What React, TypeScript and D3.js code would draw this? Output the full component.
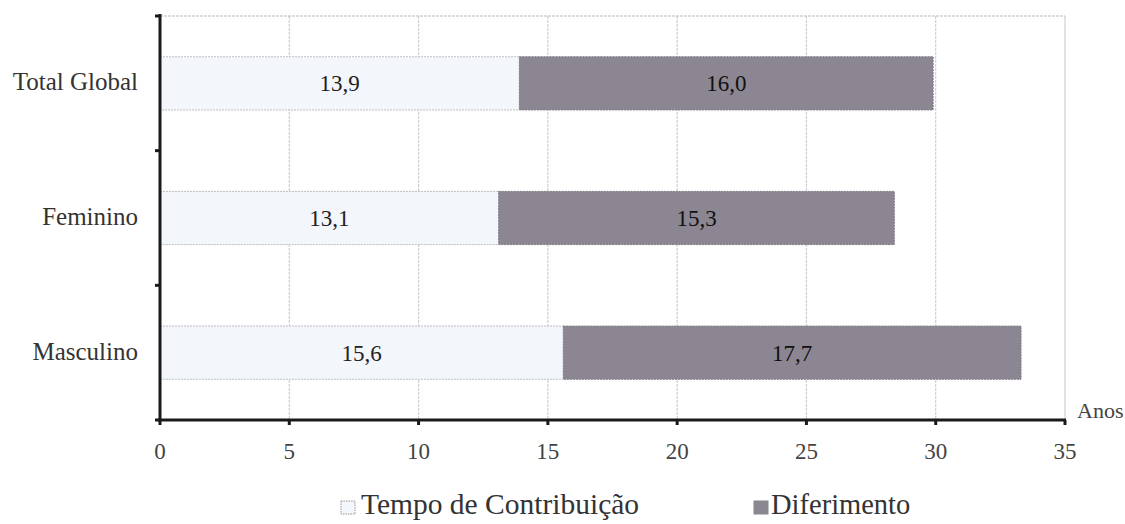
import React from "react";
import * as d3 from "d3";

const categories = ["Total Global", "Feminino", "Masculino"];
const tempo = [13.9, 13.1, 15.6];
const diferimento = [16.0, 15.3, 17.7];
const xTicks = [0, 5, 10, 15, 20, 25, 30, 35];
const seriesNames = ["Tempo de Contribuição", "Diferimento"];

const W = 1125, H = 524;
const left = 160, right = 1065, top = 16, bottom = 420;
const FONT = "Liberation Serif";
const C_TEMPO = "#f3f6fa";
const C_DIF = "#8b8692";
const ts = (size: number) => ({ fontFamily: FONT, fontSize: size + "px" });

const fmt = (v: number) => v.toFixed(1).replace(".", ",");

export default function App() {
  const x = d3.scaleLinear().domain([0, 35]).range([left, right]);
  const y = d3.scaleBand<string>().domain(categories).range([top, bottom]).padding(0);
  const barH = y.bandwidth() * 0.395;
  const bounds = [top, ...categories.map((c) => (y(c) as number) + y.bandwidth())];

  return (
    <svg width={W} height={H} style={{ position: "absolute", left: 0, top: 0, background: "#fff" }}>
      {/* grid */}
      {xTicks.slice(1).map((t) => (
        <line key={"g" + t} x1={x(t)} x2={x(t)} y1={top} y2={bottom} stroke="#cfcfd4" strokeWidth={1.2} strokeDasharray={t === 35 ? undefined : "3,1"} />
      ))}
      <line x1={left} x2={right} y1={top} y2={top} stroke="#b8b8bc" strokeWidth={1.2} strokeDasharray="3,1" />
      {/* bars */}
      {categories.map((c, i) => {
        const yc = (y(c) as number) + y.bandwidth() / 2;
        const y0 = yc - barH / 2;
        const x0 = x(0), x1 = x(tempo[i]), x2 = x(tempo[i] + diferimento[i]);
        return (
          <g key={c}>
            <rect x={x0} y={y0} width={x1 - x0} height={barH} fill={C_TEMPO} stroke="#bdbdc3" strokeWidth={1} strokeDasharray="2,1" />
            <rect x={x1} y={y0} width={x2 - x1} height={barH} fill={C_DIF} stroke="#7d7985" strokeWidth={1} strokeDasharray="2,1" />
            <text x={(x0 + x1) / 2} y={yc + 8} textAnchor="middle" style={ts(23)} fill="#222">{fmt(tempo[i])}</text>
            <text x={(x1 + x2) / 2} y={yc + 8} textAnchor="middle" style={ts(23)} fill="#111">{fmt(diferimento[i])}</text>
            <text x={138} y={yc + 7} textAnchor="end" style={ts(25)} fill="#333">{c}</text>
          </g>
        );
      })}
      {/* axes */}
      <line x1={left} x2={left} y1={top - 2} y2={bottom + 1} stroke="#1a1a1a" strokeWidth={3} />
      {bounds.map((b, i) => (
        <line key={"yt" + i} x1={left - 5} x2={left} y1={b} y2={b} stroke="#1a1a1a" strokeWidth={3} />
      ))}
      <line x1={left - 2} x2={right + 1} y1={bottom} y2={bottom} stroke="#1a1a1a" strokeWidth={3} />
      {xTicks.map((t) => (
        <g key={"xt" + t}>
          <line x1={x(t)} x2={x(t)} y1={bottom} y2={bottom + 5} stroke="#1a1a1a" strokeWidth={3} />
          <text x={x(t)} y={459} textAnchor="middle" style={ts(23)} fill="#444">{t}</text>
        </g>
      ))}
      <text x={1077} y={418} style={ts(22)} fill="#444">Anos</text>
      {/* legend */}
      <rect x={341} y={501} width={14} height={13} fill={C_TEMPO} stroke="#999" strokeWidth={1} strokeDasharray="1.5,1" />
      <text x={361} y={514} style={ts(29.5)} fill="#333">{seriesNames[0]}</text>
      <rect x={754} y={501} width={14} height={13} fill={C_DIF} stroke="#888" strokeWidth={1} />
      <text x={771} y={514} style={ts(28.5)} fill="#333">{seriesNames[1]}</text>
    </svg>
  );
}
